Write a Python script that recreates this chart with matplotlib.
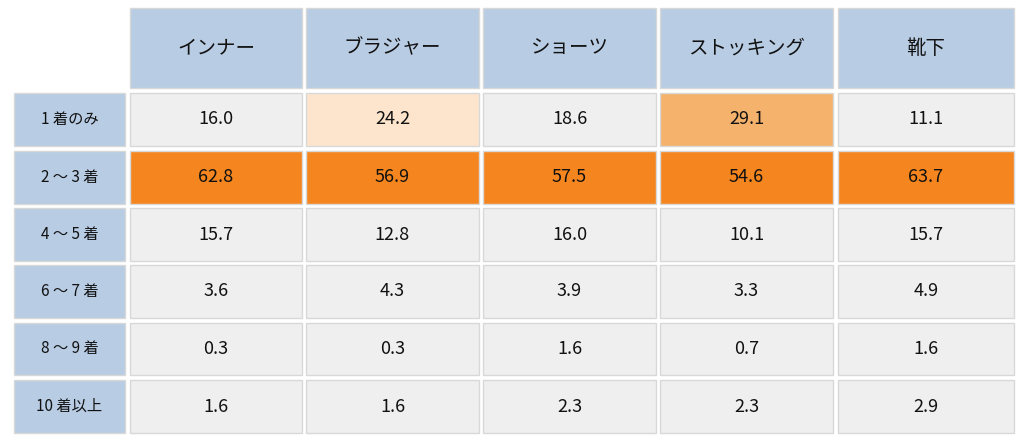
import matplotlib
matplotlib.use("Agg")
import matplotlib.pyplot as plt
from matplotlib.patches import Rectangle

plt.rcParams['font.family'] = ['Noto Sans CJK JP', 'DejaVu Sans']

columns = ["インナー", "ブラジャー", "ショーツ", "ストッキング", "靴下"]
rows = ["1 着のみ", "2 ～ 3 着", "4 ～ 5 着", "6 ～ 7 着", "8 ～ 9 着", "10 着以上"]
values = [
    [16.0, 24.2, 18.6, 29.1, 11.1],
    [62.8, 56.9, 57.5, 54.6, 63.7],
    [15.7, 12.8, 16.0, 10.1, 15.7],
    [3.6, 4.3, 3.9, 3.3, 4.9],
    [0.3, 0.3, 1.6, 0.7, 1.6],
    [1.6, 1.6, 2.3, 2.3, 2.9],
]

def cell_color(v):
    if v >= 50: return '#f5861f'
    if v >= 25: return '#f5b26d'
    if v >= 20: return '#fde5cd'
    return '#efefef'

fig = plt.figure(figsize=(10.24, 4.46), dpi=100)
ax = fig.add_axes([0, 0, 1, 1])
ax.set_xlim(0, 1024); ax.set_ylim(446, 0); ax.axis('off')

blue = '#b8cce4'
col_x = [(130, 302), (306, 479), (483, 656), (660, 833), (838, 1014)]
row_y = [(93, 146), (151, 204), (208, 261), (265, 318), (323, 375), (380, 433)]
head_y = (8, 88)
rh_x = (14, 125)
edge = '#d8d8d8'

for (x0, x1), name in zip(col_x, columns):
    ax.add_patch(Rectangle((x0, head_y[0]), x1 - x0, head_y[1] - head_y[0], fc=blue, ec=edge, lw=1))
    ax.text((x0 + x1) / 2, (head_y[0] + head_y[1]) / 2, name, ha='center', va='center', fontsize=14, color='#111111')

for (y0, y1), name, rv in zip(row_y, rows, values):
    ax.add_patch(Rectangle((rh_x[0], y0), rh_x[1] - rh_x[0], y1 - y0, fc=blue, ec=edge, lw=1))
    ax.text((rh_x[0] + rh_x[1]) / 2, (y0 + y1) / 2, name, ha='center', va='center', fontsize=11, color='#111111')
    for (x0, x1), v in zip(col_x, rv):
        ax.add_patch(Rectangle((x0, y0), x1 - x0, y1 - y0, fc=cell_color(v), ec=edge, lw=1))
        ax.text((x0 + x1) / 2, (y0 + y1) / 2, f"{v:.1f}", ha='center', va='center', fontsize=13, color='#111111')

fig.savefig('out.png', dpi=100)
